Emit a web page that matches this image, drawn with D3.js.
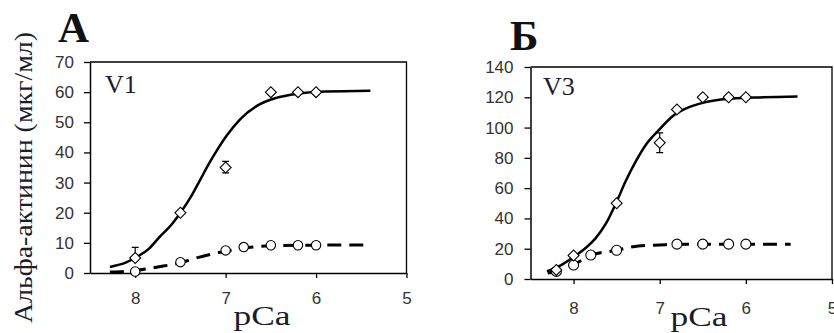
<!DOCTYPE html>
<html><head><meta charset="utf-8">
<script src="https://cdn.jsdelivr.net/npm/d3@7"></script>
<style>body{margin:0;background:#fff}svg{display:block}</style>
</head><body>
<svg id="c" width="834" height="333"></svg>
<script>
// ---- data ----
const panelLetters = ["А", "Б"];
const panelNames = ["V1", "V3"];
const yTicksA = [0, 10, 20, 30, 40, 50, 60, 70];
const yTicksB = [0, 20, 40, 60, 80, 100, 120, 140];
const xTicks = [8, 7, 6, 5];
const yTitle = "Альфа-актинин (мкг/мл)";
const xTitle = "pCa";

// panel A (V1)
const diamondsA = [[8.0, 5], [7.5, 20], [7.0, 35], [6.5, 60], [6.2, 60], [6.0, 60]];
const diamondErrA = [[8.0, 5, 8.5], [7.0, 33.2, 37]];
const circlesA = [[8.0, 0.5], [7.5, 3.6], [7.0, 7.5], [6.8, 8.6], [6.5, 9.2], [6.2, 9.2], [6.0, 9.2]];
const fitSolidA = [[8.28, 2], [8.1, 3.5], [7.98, 5.4], [7.85, 8], [7.73, 12], [7.6, 16], [7.49, 20.4], [7.38, 25.5],
  [7.28, 31], [7.18, 36.5], [7.1, 40.5], [6.99, 45.5], [6.84, 51], [6.62, 56], [6.45, 58], [6.2, 59.5], [5.9, 60.2], [5.4, 60.5]];
const fitDashA = [[8.28, 0.3], [8.0, 0.8], [7.75, 2], [7.5, 3.4], [7.3, 5.2], [7.1, 6.6], [7.0, 7.2], [6.8, 8.3],
  [6.5, 9], [6.2, 9.2], [5.4, 9.3]];

// panel B (V3)
const diamondsB = [[8.2, 6], [8.0, 15.5], [7.5, 50], [7.0, 90], [6.8, 112], [6.5, 120], [6.2, 120], [6.0, 120]];
const diamondErrB = [[7.0, 83.5, 96.5]];
const circlesB = [[8.2, 5], [8.0, 9.2], [7.8, 15.8], [7.5, 19], [6.8, 23], [6.5, 23], [6.2, 23], [6.0, 23]];
const fitSolidB = [[8.31, 5], [8.15, 9], [8.0, 14.5], [7.85, 21], [7.75, 26.5], [7.62, 37], [7.5, 51], [7.4, 64],
  [7.27, 78.5], [7.15, 89.5], [7.0, 99], [6.84, 108], [6.7, 112.5], [6.49, 116.5], [6.2, 119], [5.9, 119.8], [5.4, 120.5]];
const fitDashB = [[8.3, 4], [8.2, 5], [8.0, 9.5], [7.8, 15.5], [7.5, 19], [7.25, 21.8], [7.0, 22.5], [6.8, 23],
  [6.0, 23], [5.48, 23]];

// ---- layout ----
const svg = d3.select("#c");
const panels = [
  {letter: panelLetters[0], name: panelNames[0], yTicks: yTicksA, yMax: 70,
   left: 90, right: 406.5, top: 62, bottom: 273, labelPad: 10, xLabPad: 14,
   diamonds: diamondsA, err: diamondErrA, circles: circlesA, solid: fitSolidA, dash: fitDashA,
   letterPos: [58, 42], namePos: [105, 93], titlePos: [262, 325], r: 4.7},
  {letter: panelLetters[1], name: panelNames[1], yTicks: yTicksB, yMax: 140,
   left: 530.5, right: 832, top: 67, bottom: 279, labelPad: 11, xLabPad: 18,
   diamonds: diamondsB, err: diamondErrB, circles: circlesB, solid: fitSolidB, dash: fitDashB,
   letterPos: [510, 50], namePos: [543, 95], titlePos: [699, 326], r: 5}
];

panels.forEach(p => {
  const x = d3.scaleLinear().domain([8.5, 5]).range([p.left, p.right]);
  const y = d3.scaleLinear().domain([0, p.yMax]).range([p.bottom, p.top]);
  const g = svg.append("g");

  // axes
  const ya = g.append("g").attr("transform", `translate(${p.left},0)`)
    .call(d3.axisLeft(y).tickValues(p.yTicks).tickSize(6).tickPadding(p.labelPad).tickSizeOuter(0));
  const xa = g.append("g").attr("transform", `translate(0,${p.bottom})`)
    .call(d3.axisBottom(x).tickValues(xTicks).tickSize(5).tickPadding(p.xLabPad).tickSizeOuter(0).tickFormat(d3.format("d")));
  [ya, xa].forEach(a => {
    a.select(".domain").attr("stroke", "#000").attr("stroke-width", 1.5);
    a.selectAll(".tick line").attr("stroke", "#000").attr("stroke-width", 1.3);
    a.selectAll(".tick text").attr("fill", "#333")
      .style("font-family", "'Liberation Sans', Arial, sans-serif").style("font-size", "17px");
  });
  // frame top and right
  g.append("path")
    .attr("d", `M${p.left},${p.top}H${p.right}V${p.bottom}`)
    .attr("fill", "none").attr("stroke", "#000").attr("stroke-width", 1.3);

  const line = d3.line().x(d => x(d[0])).y(d => y(d[1])).curve(d3.curveMonotoneX);
  g.append("path").datum(p.dash).attr("d", line)
    .attr("fill", "none").attr("stroke", "#000").attr("stroke-width", 3).attr("stroke-dasharray", "14,8");
  g.append("path").datum(p.solid).attr("d", line)
    .attr("fill", "none").attr("stroke", "#000").attr("stroke-width", 2.5);

  // error bars
  p.err.forEach(e => {
    const cx = x(e[0]);
    g.append("path")
      .attr("d", `M${cx},${y(e[1])}V${y(e[2])}M${cx - 3.5},${y(e[1])}H${cx + 3.5}M${cx - 3.5},${y(e[2])}H${cx + 3.5}`)
      .attr("fill", "none").attr("stroke", "#000").attr("stroke-width", 1.2);
  });

  // markers
  g.selectAll(".circ").data(p.circles).join("circle")
    .attr("cx", d => x(d[0])).attr("cy", d => y(d[1])).attr("r", p.r)
    .attr("fill", "#fff").attr("stroke", "#000").attr("stroke-width", 1.1);
  const sym = d3.symbol().type(d3.symbolSquare).size(60);
  g.selectAll(".dia").data(p.diamonds).join("path")
    .attr("d", sym)
    .attr("transform", d => `translate(${x(d[0])},${y(d[1])}) rotate(45)`)
    .attr("fill", "#fff").attr("stroke", "#000").attr("stroke-width", 1.1);

  // texts
  g.append("text").text(p.letter)
    .attr("x", p.letterPos[0]).attr("y", p.letterPos[1])
    .style("font-family", "'Liberation Serif', 'Times New Roman', serif")
    .style("font-weight", "bold").style("font-size", "43px").attr("fill", "#111");
  g.append("text").text(p.name)
    .attr("x", p.namePos[0]).attr("y", p.namePos[1])
    .style("font-family", "'Liberation Serif', 'Times New Roman', serif")
    .style("font-size", "26px").attr("fill", "#1c1c2a");
  g.append("text").text(xTitle)
    .attr("x", p.titlePos[0]).attr("y", p.titlePos[1]).attr("text-anchor", "middle")
    .attr("textLength", 57).attr("lengthAdjust", "spacingAndGlyphs")
    .style("font-family", "'Liberation Serif', 'Times New Roman', serif")
    .style("font-size", "28px").attr("fill", "#1c1c2a");
});

svg.append("text").text(yTitle)
  .attr("transform", "translate(32,177.5) rotate(-90)")
  .attr("text-anchor", "middle")
  .attr("textLength", 291).attr("lengthAdjust", "spacingAndGlyphs")
  .style("font-family", "'Liberation Serif', 'Times New Roman', serif")
  .style("font-size", "25px").attr("fill", "#1c1c2a");
</script>
</body></html>
